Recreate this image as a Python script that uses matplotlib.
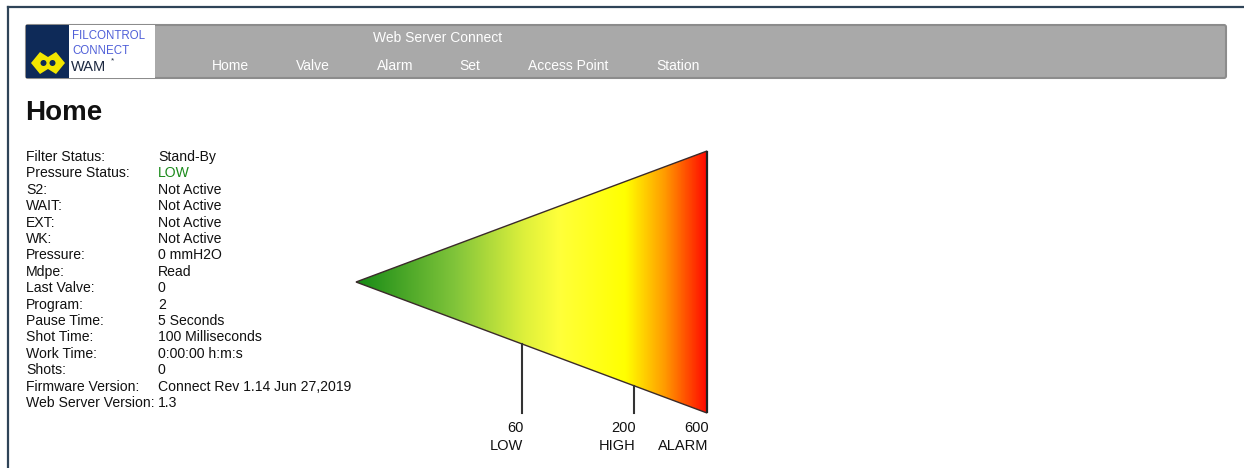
import numpy as np
import matplotlib
matplotlib.use("Agg")
import matplotlib.pyplot as plt
from matplotlib.patches import Polygon, Rectangle, FancyBboxPatch, Ellipse
from matplotlib.colors import LinearSegmentedColormap

# ---------------- data ----------------
nav_items = ["Home", "Valve", "Alarm", "Set", "Access Point", "Station"]
status_labels = ["Filter Status:", "Pressure Status:", "S2:", "WAIT:", "EXT:", "WK:",
                 "Pressure:", "Mdpe:", "Last Valve:", "Program:", "Pause Time:",
                 "Shot Time:", "Work Time:", "Shots:", "Firmware Version:",
                 "Web Server Version:"]
status_values = ["Stand-By", "LOW", "Not Active", "Not Active", "Not Active", "Not Active",
                 "0 mmH2O", "Read", "0", "2", "5 Seconds", "100 Milliseconds",
                 "0:00:00 h:m:s", "0", "Connect Rev 1.14 Jun 27,2019", "1.3"]
gauge_ticks = [60, 200, 600]
gauge_tick_labels = ["LOW", "HIGH", "ALARM"]
# gauge scale (pressure value -> fraction of gauge length)
scale_values = [0, 60, 200, 600]
scale_frac = [0.0, 0.473, 0.792, 1.0]

FONT = ["Liberation Sans", "DejaVu Sans"]

W, H = 1244, 468
fig = plt.figure(figsize=(W / 100, H / 100), dpi=100)
ax = fig.add_axes([0, 0, 1, 1])
ax.set_xlim(0, W)
ax.set_ylim(H, 0)
ax.axis("off")

# outer border (top + left)
ax.plot([8, W], [7, 7], color="#2f4458", lw=1.6)
ax.plot([8, 8], [7, H], color="#2f4458", lw=1.6)

# header
ax.add_patch(FancyBboxPatch((26, 25), 1200, 53, boxstyle="round,pad=0,rounding_size=2",
                            facecolor="#a9a9a9", edgecolor="#8c8c8c", lw=1.5))
ax.add_patch(Rectangle((26, 25), 43, 53, facecolor="#0e2a58", edgecolor="none"))
ax.add_patch(Rectangle((69, 25), 86, 53, facecolor="white", edgecolor="none"))
# logo symbol
sym = Polygon([(31, 63), (40, 52), (48, 57), (56, 52), (65, 63), (56, 74), (48, 69), (40, 74)],
              closed=True, facecolor="#f2e600", edgecolor="none")
ax.add_patch(sym)
ax.add_patch(Ellipse((43.5, 63), 6, 6, facecolor="#0e2a58", edgecolor="none"))
ax.add_patch(Ellipse((52.5, 63), 6, 6, facecolor="#0e2a58", edgecolor="none"))
ax.text(72, 36, "FILCONTROL", fontsize=8.3, color="#4f5fd8", family=FONT,
        va="center", ha="left")
ax.text(72, 51, "CONNECT", fontsize=8.3, color="#4f5fd8", family=FONT,
        va="center", ha="left")
ax.text(71, 67, "WAM", fontsize=10.5, color="#1c2840", family=FONT,
        va="center", ha="left")
ax.text(111, 61, "*", fontsize=6, color="#1c2840", family=FONT, va="center")

ax.text(438, 38, "Web Server Connect", fontsize=10, color="white", family=FONT,
        ha="center", va="center")
nav_x = [230, 313, 395, 470, 568, 678]
for name, x in zip(nav_items, nav_x):
    ax.text(x, 66, name, fontsize=10, color="white", family=FONT,
            ha="center", va="center")

# page title
ax.text(25, 113, "Home", fontsize=20, weight="bold", color="#111111", family=FONT,
        ha="left", va="center")

# status table
row0, step = 157, 16.4
for i, (lab, val) in enumerate(zip(status_labels, status_values)):
    y = row0 + i * step
    ax.text(26, y, lab, fontsize=10.1, color="#111111", family=FONT, ha="left", va="center")
    ax.text(158, y, val, fontsize=10.1, color="#1a8a1a" if val == "LOW" else "#111111",
            family=FONT, ha="left", va="center")

# gauge axes (fraction coordinates)
gx0, gx1, gy0, gy1 = 356, 707, 151, 413
gax = fig.add_axes([gx0 / W, 1 - gy1 / H, (gx1 - gx0) / W, (gy1 - gy0) / H])
gax.set_xlim(0, 1)
gax.set_ylim(0, 1)
gax.axis("off")

cmap = LinearSegmentedColormap.from_list("gauge", [
    (0.0, "#168a16"), (0.28, "#80c43a"), (0.48, "#def03c"), (0.58, "#ffff3a"),
    (0.77, "#ffff00"), (0.88, "#ff9c00"), (1.0, "#ff0a00")])
grad = np.linspace(0, 1, 512).reshape(1, -1)
im = gax.imshow(grad, cmap=cmap, extent=[0, 1, 0, 1], aspect="auto", origin="lower")
tri = Polygon([(0, 0.5), (1, 1), (1, 0)], closed=True, facecolor="none",
              edgecolor="#3a2a2a", lw=1.0, transform=gax.transData, clip_on=False)
im.set_clip_path(tri)
gax.add_patch(tri)
gax.plot([1, 1], [0, 1], color="#222222", lw=1.6, clip_on=False, solid_capstyle="butt")

for v, lab in zip(gauge_ticks, gauge_tick_labels):
    f = np.interp(v, scale_values, scale_frac)
    ytop = 0.5 - 0.5 * f
    if ytop > 0.002:
        gax.plot([f, f], [ytop, 0], color="#333333", lw=1.5, clip_on=False)
    gax.annotate(str(v), xy=(f, 0), xytext=(1, -11), textcoords="offset points",
                 ha="right", va="center", fontsize=10.5, family=FONT, color="#111111",
                 annotation_clip=False)
    gax.annotate(lab, xy=(f, 0), xytext=(1, -23.5), textcoords="offset points",
                 ha="right", va="center", fontsize=10.5, family=FONT, color="#111111",
                 annotation_clip=False)

fig.savefig("out.png", dpi=100)
